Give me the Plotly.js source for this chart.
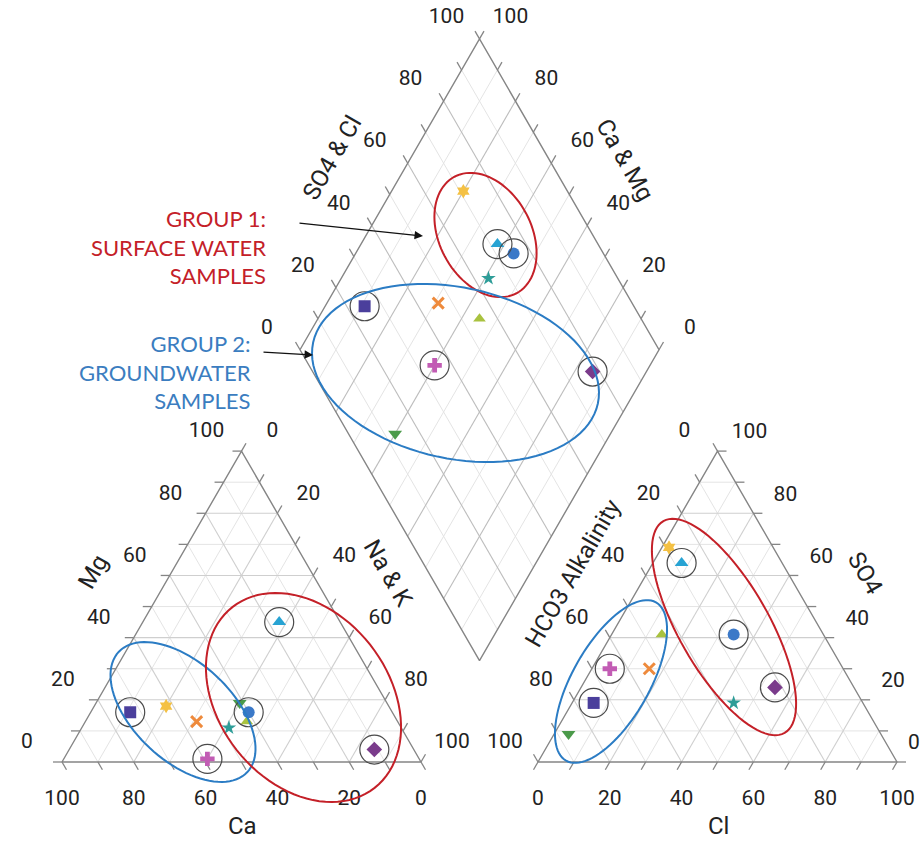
<!DOCTYPE html>
<html><head><meta charset="utf-8">
<script src="https://cdn.plot.ly/plotly-3.0.1.min.js"></script>
<style>html,body{margin:0;padding:0;background:#fff;}#chart{width:924px;height:843px;}</style>
</head><body><div id="chart"></div>
<script>
// ---------------- DATA (percent of meq/L) ----------------
const sampleNames = ['S1','S2','S3','S4','S5','S6','S7','S8','S9','S10'];
const caPct   = [62, 17, 40, 48, 56, 73, 42, 59, 11, 41];
const mgPct   = [18, 45, 16, 11, 13, 16, 13,  1,  4, 19];
const nakPct  = [20, 38, 44, 41, 31, 11, 45, 40, 85, 40];
const hco3Pct = [29, 28, 25, 36, 54, 75, 45, 65, 22, 87];
const so4Pct  = [69, 64, 41, 19, 30, 19, 41, 30, 24,  9];
const clPct   = [ 2,  8, 34, 45, 16,  6, 14,  5, 54,  4];
const circledSamples = [1, 2, 5, 7, 8];
const tickValues = [0, 20, 40, 60, 80, 100];
const gridValues = [10, 20, 30, 40, 50, 60, 70, 80, 90];
const minorTickValues = [0, 10, 20, 30, 40, 50, 60, 70, 80, 90, 100];

// ---------------- STYLE ----------------
const sampleSymbols = ['hexagram','triangle-up','circle','star','x-thin-open','square','triangle-up','cross','diamond','triangle-down'];
const sampleColors  = ['#f4c144','#27a3d3','#3b79c8','#2e9d98','#ee8a3c','#4b3f9c','#a9c23f','#c25cb4','#7a3b8b','#4b9a4a'];
const sampleSizes   = [11, 12, 12, 11, 11, 12, 11, 12, 12, 12];
const drawOrder = [9, 6, 0, 1, 3, 4, 5, 7, 8, 2];

// ---------------- GEOMETRY ----------------
const S = 359, H = S*Math.sqrt(3)/2;
const cat0 = {x:62, y:762};
const an0 = {x:538, y:762};
const gap = an0.x - (cat0.x + S);
const dB = {x: cat0.x + S + gap/2, y: cat0.y - gap/2*Math.sqrt(3)};
const dL = {x: dB.x - S/2, y: dB.y - H};
function catXY(mg, nak){ return [cat0.x + S*(nak + mg/2)/100, cat0.y - H*mg/100]; }
function anXY(so4, cl){ return [an0.x + S*(cl + so4/2)/100, an0.y - H*so4/100]; }
function diaXY(nak, sc){ return [dL.x + (nak+sc)/100*S/2, dL.y + (nak - sc)/100*H]; }

function segs(list){ const xs=[], ys=[]; list.forEach(s=>{ s.forEach(p=>{xs.push(p[0]); ys.push(p[1]);}); xs.push(null); ys.push(null); }); return {x:xs, y:ys}; }

const triMajor=[], triMinor=[], diaMajor=[], diaMinor=[];
gridValues.forEach(v=>{
  const tgt = (v%20===0) ? triMajor : triMinor;
  tgt.push([catXY(v,0), catXY(v,100-v)]);
  tgt.push([catXY(0,v), catXY(100-v,v)]);
  tgt.push([catXY(0,100-v), catXY(100-v,0)]);
  tgt.push([anXY(v,0), anXY(v,100-v)]);
  tgt.push([anXY(0,v), anXY(100-v,v)]);
  tgt.push([anXY(0,100-v), anXY(100-v,0)]);
  const dt = (v%20===0) ? diaMajor : diaMinor;
  dt.push([diaXY(v,0), diaXY(v,100)]);
  dt.push([diaXY(0,v), diaXY(100,v)]);
});
const edges = [
  [catXY(0,0), catXY(100,0), catXY(0,100), catXY(0,0)],
  [anXY(0,0), anXY(100,0), anXY(0,100), anXY(0,0)],
  [diaXY(0,0), diaXY(100,0), diaXY(100,100), diaXY(0,100), diaXY(0,0)]
];
const TL = 9, c60 = 0.5, s60 = Math.sqrt(3)/2;
function tick(p, dx, dy){ return [p, [p[0]+dx*TL, p[1]+dy*TL]]; }
const ticks = [];
minorTickValues.forEach(v=>{
  ticks.push(tick(catXY(0,100-v), c60, s60));
  ticks.push(tick(catXY(v,0), -1, 0));
  ticks.push(tick(catXY(100-v,v), c60, -s60));
  ticks.push(tick(anXY(0,v), -c60, s60));
  ticks.push(tick(anXY(100-v,0), -c60, -s60));
  ticks.push(tick(anXY(v,100-v), 1, 0));
  ticks.push(tick(diaXY(0,v), -c60, -s60));
  ticks.push(tick(diaXY(100-v,100), c60, -s60));
});

const labX=[], labY=[], labT=[];
function lab(p, dx, dy, t){ labX.push(Math.min(p[0]+dx, 914)); labY.push(p[1]+dy); labT.push(String(t)); }
tickValues.forEach(v=>{
  lab(catXY(0,100-v), 0, 38, v);
  lab(catXY(v,0), -35, -19, v);
  lab(catXY(100-v,v), 31, -19, v);
  lab(anXY(0,v), 0, 38, v);
  lab(anXY(100-v,0), -33, -19, v);
  lab(anXY(v,100-v), 32, -18, v);
  lab(diaXY(0,v), -33, -21, v);
  lab(diaXY(100-v,100), 31, -21, v);
});

const traces = [];
const tmn = segs(triMinor.concat(diaMinor));
traces.push({x:tmn.x, y:tmn.y, mode:'lines', line:{color:'#e4e4e4', width:1}, hoverinfo:'skip'});
const tmj = segs(triMajor);
traces.push({x:tmj.x, y:tmj.y, mode:'lines', line:{color:'#cfcfcf', width:1.1}, hoverinfo:'skip'});
const dmj = segs(diaMajor);
traces.push({x:dmj.x, y:dmj.y, mode:'lines', line:{color:'#bdbdbd', width:1.1}, hoverinfo:'skip'});
const ed = segs(edges);
traces.push({x:ed.x, y:ed.y, mode:'lines', line:{color:'#858585', width:1.4}, hoverinfo:'skip'});
const tk = segs(ticks);
traces.push({x:tk.x, y:tk.y, mode:'lines', line:{color:'#858585', width:1.3}, hoverinfo:'skip'});
traces.push({x:labX, y:labY, text:labT, mode:'text', textposition:'middle center', cliponaxis:false,
  textfont:{family:"'Liberation Sans Narrow', Roboto, sans-serif", size:21, color:'#222'}, hoverinfo:'skip'});

drawOrder.forEach(i=>{
  const p1 = catXY(mgPct[i], nakPct[i]);
  const p2 = anXY(so4Pct[i], clPct[i]);
  const p3 = diaXY(nakPct[i], so4Pct[i]+clPct[i]);
  const open = sampleSymbols[i].indexOf('open')>=0;
  traces.push({name:sampleNames[i], x:[p1[0],p2[0],p3[0]], y:[p1[1],p2[1],p3[1]], mode:'markers', cliponaxis:false,
    marker:{symbol:sampleSymbols[i], size:sampleSizes[i], color:sampleColors[i],
      line:{width: open?3:0, color:sampleColors[i]}}, hoverinfo:'skip'});
});
const cx=[], cy=[];
circledSamples.forEach(i=>{
  [catXY(mgPct[i], nakPct[i]), anXY(so4Pct[i], clPct[i]), diaXY(nakPct[i], so4Pct[i]+clPct[i])].forEach(p=>{cx.push(p[0]); cy.push(p[1]);});
});
traces.push({x:cx, y:cy, mode:'markers', marker:{symbol:'circle-open', size:29, color:'#4a4a4a', line:{width:1.2}}, hoverinfo:'skip'});

function ellipsePath(c, a, b, deg){
  const t = deg*Math.PI/180, ct=Math.cos(t), st=Math.sin(t);
  let d='';
  for(let k=0;k<=96;k++){
    const u = k/96*2*Math.PI;
    const ex=a*Math.cos(u), ey=b*Math.sin(u);
    const x = c[0] + ex*ct - ey*st, y = c[1] + ex*st + ey*ct;
    d += (k===0?'M':'L') + x.toFixed(2) + ',' + y.toFixed(2);
  }
  return d + 'Z';
}
const red = '#c42028', blue = '#2b7cc4';
const shapes = [
  {c:[183,712], a:88, b:49, t:43, col:blue},
  {c:[303.5,697.5], a:115, b:85, t:51.8, col:red},
  {c:[611,681.5], a:91, b:38.5, t:-60.4, col:blue},
  {c:[724,627], a:122, b:45, t:60.2, col:red},
  {c:[485.5,235], a:66, b:46, t:62, col:red},
  {c:[455.5,373], a:145.6, b:85.5, t:12.1, col:blue}
].map(e=>({type:'path', xref:'x', yref:'y', path:ellipsePath(e.c,e.a,e.b,e.t), line:{color:e.col, width:2}, layer:'above'}));

const tf = {family:"'Liberation Sans Narrow', Roboto, sans-serif", size:24, color:'#222'};
function title(x,y,t,ang){ return {x:x, y:y, xref:'x', yref:'y', text:t, showarrow:false, textangle:ang, font:tf, xanchor:'center', yanchor:'middle'}; }
const annotations = [
  title(242,826,'Ca',0),
  title(93,572,'Mg',-60),
  title(388,573,'Na &amp; K',60),
  title(718,826,'Cl',0),
  title(573,573,'HCO3 Alkalinity',-60),
  title(865,573,'SO4',60),
  title(332,158,'SO4 &amp; Cl',-60),
  title(625,160,'Ca &amp; Mg',60),
  {x:268, y:247, xref:'x', yref:'y', text:'GROUP 1:<br>SURFACE WATER<br>SAMPLES', align:'right', xanchor:'right', yanchor:'middle', showarrow:false,
   font:{family:'Lato, "Open Sans", sans-serif', size:22, color:'#c42028'}},
  {x:253, y:372, xref:'x', yref:'y', text:'GROUP 2:<br>GROUNDWATER<br>SAMPLES', align:'right', xanchor:'right', yanchor:'middle', showarrow:false,
   font:{family:'Lato, "Open Sans", sans-serif', size:22, color:'#3b7dc0'}},
  {x:423, y:236, ax:298, ay:223, xref:'x', yref:'y', axref:'x', ayref:'y', text:'', showarrow:true, arrowhead:2, arrowsize:1.3, arrowwidth:1.3, arrowcolor:'#111', standoff:0},
  {x:313, y:355, ax:262, ay:352, xref:'x', yref:'y', axref:'x', ayref:'y', text:'', showarrow:true, arrowhead:2, arrowsize:1.3, arrowwidth:1.3, arrowcolor:'#111', standoff:0}
];

const layout = {
  width:924, height:843, margin:{l:0,r:0,t:0,b:0}, showlegend:false,
  paper_bgcolor:'#fff', plot_bgcolor:'#fff',
  xaxis:{range:[0,924], visible:false, fixedrange:true},
  yaxis:{range:[843,0], visible:false, fixedrange:true},
  shapes:shapes, annotations:annotations
};
Plotly.newPlot('chart', traces, layout, {staticPlot:true, displayModeBar:false});
</script></body></html>
